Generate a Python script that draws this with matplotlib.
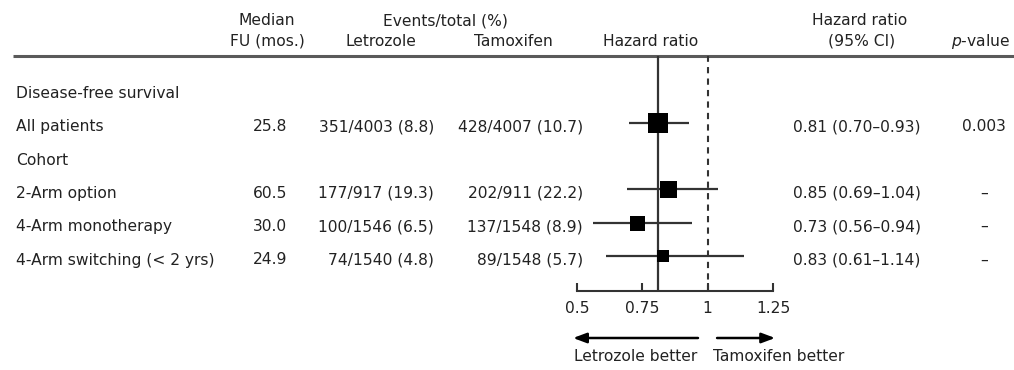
import matplotlib
matplotlib.use("Agg")
import matplotlib.pyplot as plt
from matplotlib.transforms import blended_transform_factory

# ---------------- data ----------------
section_labels = ["Disease-free survival", "Cohort"]
row_labels = ["All patients", "2-Arm option", "4-Arm monotherapy", "4-Arm switching (< 2 yrs)"]
median_fu = [25.8, 60.5, 30.0, 24.9]
letrozole_events = [351, 177, 100, 74]
letrozole_total = [4003, 917, 1546, 1540]
letrozole_pct = [8.8, 19.3, 6.5, 4.8]
tamoxifen_events = [428, 202, 137, 89]
tamoxifen_total = [4007, 911, 1548, 1548]
tamoxifen_pct = [10.7, 22.2, 8.9, 5.7]
hazard_ratio = [0.81, 0.85, 0.73, 0.83]
ci_low = [0.70, 0.69, 0.56, 0.61]
ci_high = [0.93, 1.04, 0.94, 1.14]
p_values = ["0.003", "–", "–", "–"]
x_ticks = [0.5, 0.75, 1.0, 1.25]
x_tick_labels = ["0.5", "0.75", "1", "1.25"]
overall_hr = 0.81

# ---------------- layout (styles/positions) ----------------
W, H = 1014, 370
section_lines = [0, 2]          # line index of section labels
data_lines = [1, 3, 4, 5]       # line index of data rows
box_px = [20, 17, 15, 12]       # square side in pixels
base0, step = 98, 33.3          # baseline of first line and line spacing (px)
mark_off = -8.5                 # marks sit slightly above text baseline
FS = 11.2
TXT = "#222222"

plt.rcParams['font.family'] = ['DejaVu Sans']
plt.rcParams['mathtext.fontset'] = 'custom'
plt.rcParams['mathtext.it'] = 'DejaVu Sans:italic'
plt.rcParams['mathtext.rm'] = 'DejaVu Sans'
fig = plt.figure(figsize=(W / 100, H / 100), dpi=100)

# full-figure canvas in pixel units for table text
ax = fig.add_axes([0, 0, 1, 1])
ax.set_xlim(0, W)
ax.set_ylim(H, 0)
ax.axis("off")

def t(x, y, s, ha="left", **kw):
    ax.text(x, y, s, ha=ha, va="baseline", fontsize=FS, color=TXT, **kw)

# headers
t(267, 25, "Median", ha="center")
t(267, 46, "FU (mos.)", ha="center")
t(445, 25, "Events/total (%)", ha="center")
t(381, 46, "Letrozole", ha="center")
t(513, 46, "Tamoxifen", ha="center")
t(651, 46, "Hazard ratio", ha="center")
t(860, 25, "Hazard ratio", ha="center")
t(862, 46, "(95% CI)", ha="center")
t(1010, 46, r"$\mathit{p}$-value", ha="right")

# header rule
ax.plot([13, W], [56, 56], color="#5a5a5a", lw=2.2, solid_capstyle="butt")

for lab, li in zip(section_labels, section_lines):
    t(16, base0 + step * li, lab)

for i, li in enumerate(data_lines):
    y = base0 + step * li
    t(16, y, row_labels[i])
    t(287, y, f"{median_fu[i]:.1f}", ha="right")
    t(434, y, f"{letrozole_events[i]}/{letrozole_total[i]} ({letrozole_pct[i]:.1f})", ha="right")
    t(583, y, f"{tamoxifen_events[i]}/{tamoxifen_total[i]} ({tamoxifen_pct[i]:.1f})", ha="right")
    t(793, y, f"{hazard_ratio[i]:.2f} ({ci_low[i]:.2f}–{ci_high[i]:.2f})")
    t(984, y, p_values[i], ha="center")

# ---------------- forest axes ----------------
x0_px, x1_px = 577, 773
top_px, bot_px = 56, 291
fax = fig.add_axes([x0_px / W, 1 - bot_px / H, (x1_px - x0_px) / W, (bot_px - top_px) / H])
fax.patch.set_alpha(0)
fax.set_xlim(x_ticks[0], x_ticks[-1])
mark0 = base0 + mark_off
fax.set_ylim((bot_px - mark0) / step, (top_px - mark0) / step)
for s in ("left", "right", "top"):
    fax.spines[s].set_visible(False)
fax.spines["bottom"].set_linewidth(1.5)
fax.spines["bottom"].set_color("#333333")
fax.set_yticks([])
fax.set_xticks(x_ticks)
fax.set_xticklabels(x_tick_labels)
fax.tick_params(axis="x", direction="in", length=6, width=1.5, color="#333333",
                labelsize=FS, labelcolor=TXT, pad=7)

fax.axvline(overall_hr, color="#333333", lw=1.6, zorder=1)
fax.axvline(1.0, color="#333333", lw=1.5, ls=(0, (3, 2.5)), zorder=1)

for i, li in enumerate(data_lines):
    fax.plot([ci_low[i], ci_high[i]], [li, li], color="#333333", lw=1.6, zorder=2,
             solid_capstyle="butt")
    fax.plot([hazard_ratio[i]], [li], marker="s", ms=box_px[i] * 0.72,
             color="black", mec="black", mew=0, zorder=3, linestyle="none")

# direction arrows and labels
tr = blended_transform_factory(fax.transData, fax.transAxes)
ay = -(338 - bot_px) / (bot_px - top_px)
ly = -(361 - bot_px) / (bot_px - top_px)
fax.annotate("", xy=(0.485, ay), xytext=(0.963, ay), xycoords=tr, textcoords=tr,
             arrowprops=dict(arrowstyle="-|>,head_length=0.8,head_width=0.3",
                             color="black", lw=1.8, shrinkA=0, shrinkB=0),
             annotation_clip=False)
fax.annotate("", xy=(1.258, ay), xytext=(1.036, ay), xycoords=tr, textcoords=tr,
             arrowprops=dict(arrowstyle="-|>,head_length=0.8,head_width=0.3",
                             color="black", lw=1.8, shrinkA=0, shrinkB=0),
             annotation_clip=False)
fax.text(0.96, ly, "Letrozole better", transform=tr, ha="right", va="baseline",
         fontsize=FS, color=TXT)
fax.text(1.02, ly, "Tamoxifen better", transform=tr, ha="left", va="baseline",
         fontsize=FS, color=TXT)

fig.savefig("out.png", dpi=100)
